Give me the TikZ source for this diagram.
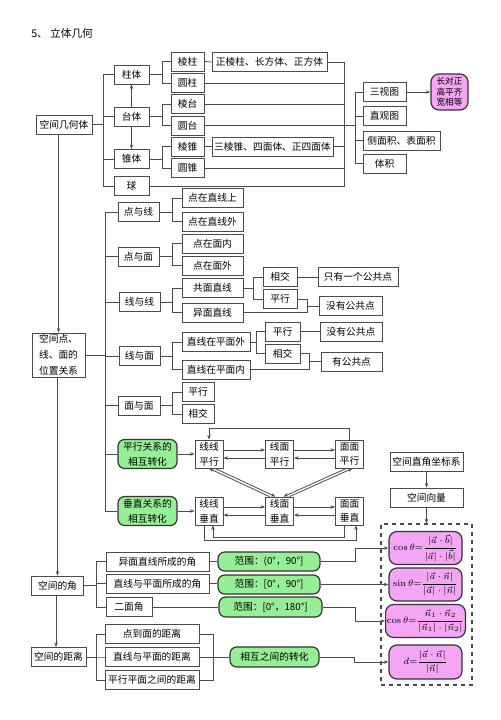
\documentclass[tikz,border=0pt]{standalone}
\usepackage{amsmath, amssymb}
\usepackage[no-math]{fontspec}
\setmainfont{Noto Sans CJK SC}
\usepackage{xcolor}
\usetikzlibrary{arrows.meta,calc}
\definecolor{lc}{RGB}{75,75,75}
\definecolor{lgreen}{RGB}{150,238,150}
\definecolor{lpink}{RGB}{244,165,244}
\newcommand\fs{\fontsize{7.3}{9}\selectfont}

\begin{document}
\begin{tikzpicture}[x=0.75pt,y=0.75pt,yscale=-1,xscale=1,
  box/.style={draw=lc, fill=white, line width=0.6pt, inner sep=1pt, minimum height=14.25pt, font=\fs},
  wd/.style={minimum width=#1*0.75pt},
  ht/.style={minimum height=#1*0.75pt},
  gbox/.style={box, fill=lgreen, draw=black!80, line width=0.9pt, rounded corners=5pt, align=center},
  pbox/.style={box, fill=lpink, draw=black!80, line width=0.9pt, rounded corners=6pt, font=\fontsize{6.6}{8}\selectfont},
  ln/.style={draw=lc, line width=0.6pt},
  arr/.style={ln, -{Stealth[length=3.5pt,width=2.6pt]}}]
            %set diagram left start at 0, and has height of 720
            \useasboundingbox (0,0) rectangle (500,720);

            % Text Node
            \node[anchor=west, inner sep=0.75pt, font=\fontsize{8}{10}\selectfont] (title) at (30,33) {5、 立体几何};

            %Shape: 空间几何体
            \node[box, wd=56] (jht) at (64,124.5) {空间几何体};
            \node[box, wd=35] (zt) at (131.5,74.5) {柱体};
            \node[box, wd=35] (tt) at (131.5,116.5) {台体};
            \node[box, wd=35] (zhui) at (131.5,159) {锥体};
            \node[box, wd=35] (qiu) at (131.5,186) {球};
            \node[box, wd=33] (lz) at (187.5,61.5) {棱柱};
            \node[box, wd=33] (yz) at (187.5,83) {圆柱};
            \node[box, wd=33] (lt) at (187.5,104) {棱台};
            \node[box, wd=33] (yt) at (187.5,125.5) {圆台};
            \node[box, wd=33] (lzh) at (187.5,146.5) {棱锥};
            \node[box, wd=33] (yzh) at (187.5,168) {圆锥};
            \node[box, wd=115] (zlz) at (269.5,62) {正棱柱、长方体、正方体};
            \node[box, wd=121] (slz) at (272.5,146.5) {三棱锥、四面体、正四面体};
            \node[box, wd=43] (sst) at (384.5,92) {三视图};
            \node[box, wd=43] (zgt) at (384.5,116) {直观图};
            \node[box, wd=77] (cmj) at (401.5,140.5) {侧面积、表面积};
            \node[box, wd=43] (tj) at (384.5,163.5) {体积};
            \node[pbox, wd=37, ht=36, align=center, font=\fontsize{6.5}{8}\selectfont] (cdz) at (449.5,92) {长对正\\高平齐\\宽相等};

            \foreach \n in {zt,tt,zhui,qiu} \draw[ln] (\n.west) -- ++(-10,0) |- (jht.east);
            \draw[arr] (tt.north) -- (zt.south);
            \draw[arr] (tt.south) -- (zhui.north);
            \foreach \p/\a/\b in {zt/lz/yz, tt/lt/yt, zhui/lzh/yzh} {
              \draw[ln] (\a.west) -- ++(-8,0) |- (\p.east);
              \draw[ln] (\b.west) -- ++(-8,0) |- (\p.east);
            }
            \draw[ln] (lz.east) -- (zlz.west);
            \draw[ln] (lzh.east) -- (slz.west);
            \coordinate (rb) at (344,125.5);
            \foreach \n in {zlz,yz,lt,yt,slz,yzh,qiu} \draw[ln] (\n.east) -| (rb);
            \foreach \n in {sst,zgt,cmj,tj} \draw[ln] (\n.west) -- ++(-7,0) |- (rb);
            \draw[arr] (sst.east) -- (cdz.west);

            %Shape: 空间点、线、面的位置关系
            \node[box, wd=53, ht=44, align=center, font=\fontsize{7.3}{12}\selectfont] (wz) at (58.5,355) {空间点、\\线、面的\\位置关系};
            \draw[arr] (jht.south -| wz.north) -- (wz.north);
            \node[box, wd=41] (dyx) at (138.5,212) {点与线};
            \node[box, wd=41] (dym) at (138.5,256.5) {点与面};
            \node[box, wd=41] (xyx) at (139.5,302) {线与线};
            \node[box, wd=41] (xym) at (139.5,356) {线与面};
            \node[box, wd=42] (mym) at (139,405.5) {面与面};
            \node[gbox, wd=59, ht=29, font=\fontsize{7.3}{11}\selectfont] (pxzh) at (147.5,454) {平行关系的\\相互转化};
            \node[gbox, wd=59, ht=29, font=\fontsize{7.3}{11}\selectfont] (czzh) at (147.5,511) {垂直关系的\\相互转化};
            \coordinate (mb) at (105,355);
            \draw[ln] (wz.east) -- (mb);
            \foreach \n in {dyx,dym,xyx,xym,mym,pxzh,czzh} \draw[ln] (\n.west) -| (mb);

            \node[box, wd=61] (dzs) at (212.5,198) {点在直线上};
            \node[box, wd=61] (dzw) at (212.5,221.5) {点在直线外};
            \node[box, wd=61] (dmn) at (212.5,243.5) {点在面内};
            \node[box, wd=61] (dmw) at (212.5,265.5) {点在面外};
            \node[box, wd=61] (gmzx) at (212.5,288) {共面直线};
            \node[box, wd=61] (ymzx) at (212.5,312.5) {异面直线};
            \node[box, wd=68] (zxw) at (216,342) {直线在平面外};
            \node[box, wd=68] (zxn) at (216,369.5) {直线在平面内};
            \node[box, wd=32] (px3) at (198,392) {平行};
            \node[box, wd=32] (xj3) at (198,414) {相交};
            \foreach \p/\a/\b in {dyx/dzs/dzw, dym/dmn/dmw, xyx/gmzx/ymzx, xym/zxw/zxn, mym/px3/xj3} {
              \draw[ln] (\a.west) -- ++(-9,0) |- (\p.east);
              \draw[ln] (\b.west) -- ++(-9,0) |- (\p.east);
            }

            \node[box, wd=34] (xj1) at (280,277) {相交};
            \node[box, wd=34] (px1) at (280,299) {平行};
            \node[box, wd=80] (yg1) at (358,277) {只有一个公共点};
            \node[box, wd=63] (mg1) at (350.5,306) {没有公共点};
            \foreach \n in {xj1,px1} \draw[ln] (\n.west) -- ++(-9,0) |- (gmzx.east);
            \draw[ln] (xj1.east) -- (yg1.west);
            \coordinate (br1) at (307,306);
            \draw[ln] (px1.east) -| (br1);
            \draw[ln] (ymzx.east) -| (br1);
            \draw[ln] (br1) -- (mg1.west);

            \node[box, wd=35] (px2) at (282.5,331.5) {平行};
            \node[box, wd=35] (xj2) at (282.5,353.5) {相交};
            \node[box, wd=62] (mg2) at (351,331.5) {没有公共点};
            \node[box, wd=61] (ygd) at (351.5,361.5) {有公共点};
            \foreach \n in {px2,xj2} \draw[ln] (\n.west) -- ++(-8,0) |- (zxw.east);
            \draw[ln] (px2.east) -- (mg2.west);
            \coordinate (br2) at (309,361.5);
            \draw[ln] (xj2.east) -| (br2);
            \draw[ln] (zxn.east) -| (br2);
            \draw[ln] (br2) -- (ygd.west);

            %Shape: 平行、垂直的相互转化
            \node[box, wd=28, ht=28, align=center, font=\fontsize{7.3}{11}\selectfont] (xxpx) at (209,454) {线线\\平行};
            \node[box, wd=28, ht=28, align=center, font=\fontsize{7.3}{11}\selectfont] (xmpx) at (279.5,454) {线面\\平行};
            \node[box, wd=28, ht=28, align=center, font=\fontsize{7.3}{11}\selectfont] (mmpx) at (349.5,454) {面面\\平行};
            \node[box, wd=28, ht=28, align=center, font=\fontsize{7.3}{11}\selectfont] (xxcz) at (209,511) {线线\\垂直};
            \node[box, wd=28, ht=28, align=center, font=\fontsize{7.3}{11}\selectfont] (xmcz) at (279.5,511) {线面\\垂直};
            \node[box, wd=28, ht=28, align=center, font=\fontsize{7.3}{11}\selectfont] (mmcz) at (349.5,511) {面面\\垂直};
            \draw[arr] (pxzh.east) -- (xxpx.west);
            \draw[arr] (czzh.east) -- (xxcz.west);
            \foreach \a/\b in {xxpx/xmpx, xmpx/mmpx, xxcz/xmcz, xmcz/mmcz} {
              \draw[arr] ($(\a.east)+(0,-4)$) -- ($(\b.west)+(0,-4)$);
              \draw[arr] ($(\b.west)+(0,4)$) -- ($(\a.east)+(0,4)$);
            }
            \draw[arr] (mmpx.north) |- ($(xxpx.north)+(0,-11)$) -- (xxpx.north);
            \draw[arr] ($(xxcz.south)+(-5,0)$) -- ++(0,15) -| ($(mmcz.south)+(6.5,0)$);
            \draw[arr] ($(mmcz.south)+(-5.5,0)$) -- ++(0,12) -| ($(xxcz.south)+(4,0)$);
            \draw[arr] ($(xmcz.north)+(-10,0)$) -- ($(xxpx.south)+(0,0)$);
            \draw[arr] ($(xxpx.south)+(6,0)$) -- ($(xmcz.north)+(-4,0)$);
            \draw[arr] ($(xmcz.north)+(10,0)$) -- ($(mmpx.south)+(3,0)$);
            \draw[arr] ($(mmpx.south)+(-3,0)$) -- ($(xmcz.north)+(4,0)$);

            %Shape: 空间向量
            \node[box, wd=73] (kjzb) at (426.5,462) {空间直角坐标系};
            \node[box, wd=73] (kjxl) at (426.5,497.5) {空间向量};
            \node[draw=lc, dashed, line width=0.8pt, wd=91, ht=161] (db) at (426.5,604.5) {};
            \draw[arr] (kjzb.south) -- (kjxl.north);
            \draw[arr] (kjxl.south) -- (db.north);
            \node[pbox, wd=73, ht=33] (cos1) at (425.5,548) {$\cos\theta{=}\dfrac{|\vec{a}\cdot\vec{b}|}{|\vec{a}|\cdot|\vec{b}|}$};
            \node[pbox, wd=73, ht=33] (sinb) at (425.5,584.5) {$\sin\theta{=}\dfrac{|\vec{a}\cdot\vec{n}|}{|\vec{a}|\cdot|\vec{n}|}$};
            \node[pbox, wd=73, ht=33] (cos2) at (425.5,621) {$\cos\theta{=}\dfrac{\vec{n}_1\cdot\vec{n}_2}{|\vec{n}_1|\cdot|\vec{n}_2|}$};
            \node[pbox, wd=73, ht=34] (dbox) at (425.5,662) {$d{=}\dfrac{|\vec{a}\cdot\vec{n}|}{|\vec{n}|}$};

            %Shape: 空间的角
            \node[box, wd=52] (kjj) at (57.5,585.5) {空间的角};
            \node[box, wd=55] (kjjl) at (58.5,657) {空间的距离};
            \draw[arr] (wz.south -| kjj.north) -- (kjj.north);
            \draw[arr] ($(kjj.south)+(-1.5,0)$) -- ($(kjj.south |- kjjl.north)+(-1.5,0)$);
            \node[box, wd=103] (ymj) at (157.5,561.5) {异面直线所成的角};
            \node[box, wd=103] (zpj) at (157.5,583.5) {直线与平面所成的角};
            \node[box, wd=46] (emj) at (129,607) {二面角};
            \foreach \n in {ymj,zpj,emj} \draw[ln] (\n.west) -- ++(-9,0) |- (kjj.east);
            \node[gbox, wd=102, ht=19] (fw1) at (269,561.5) {范围：(0°，90°]};
            \node[gbox, wd=102, ht=19] (fw2) at (269,584.5) {范围：[0°，90°]};
            \node[gbox, wd=103, ht=20] (fw3) at (270.5,607) {范围：[0°，180°]};
            \draw[ln] (ymj.east) -- (fw1.west);
            \draw[ln] (zpj.east) -- (zpj.east -| fw2.west);
            \draw[ln] (emj.east) -- (fw3.west);
            \draw[arr] (fw1.east) -- ++(35,0) |- (cos1.west);
            \draw[arr] (fw2.east) -- (sinb.west);
            \draw[arr] (fw3.east) -- ++(33,0) |- (cos2.west);

            %Shape: 空间的距离
            \node[box, wd=94] (ddm) at (152,634) {点到面的距离};
            \node[box, wd=94] (zpd) at (152,657) {直线与平面的距离};
            \node[box, wd=94] (pxd) at (152,680) {平行平面之间的距离};
            \node[gbox, wd=89, ht=20] (zhh) at (274.5,657) {相互之间的转化};
            \foreach \n in {ddm,zpd,pxd} \draw[ln] (\n.west) -- ++(-8,0) |- (kjjl.east);
            \coordinate (rbr) at (213,657);
            \draw[ln] (ddm.east) -| (rbr);
            \draw[ln] (pxd.east) -| (rbr);
            \draw[ln] (zpd.east) -- (zhh.west);
            \draw[arr] (zhh.east) -- ++(35,0) |- (dbox.west);

\end{tikzpicture}
\end{document}
